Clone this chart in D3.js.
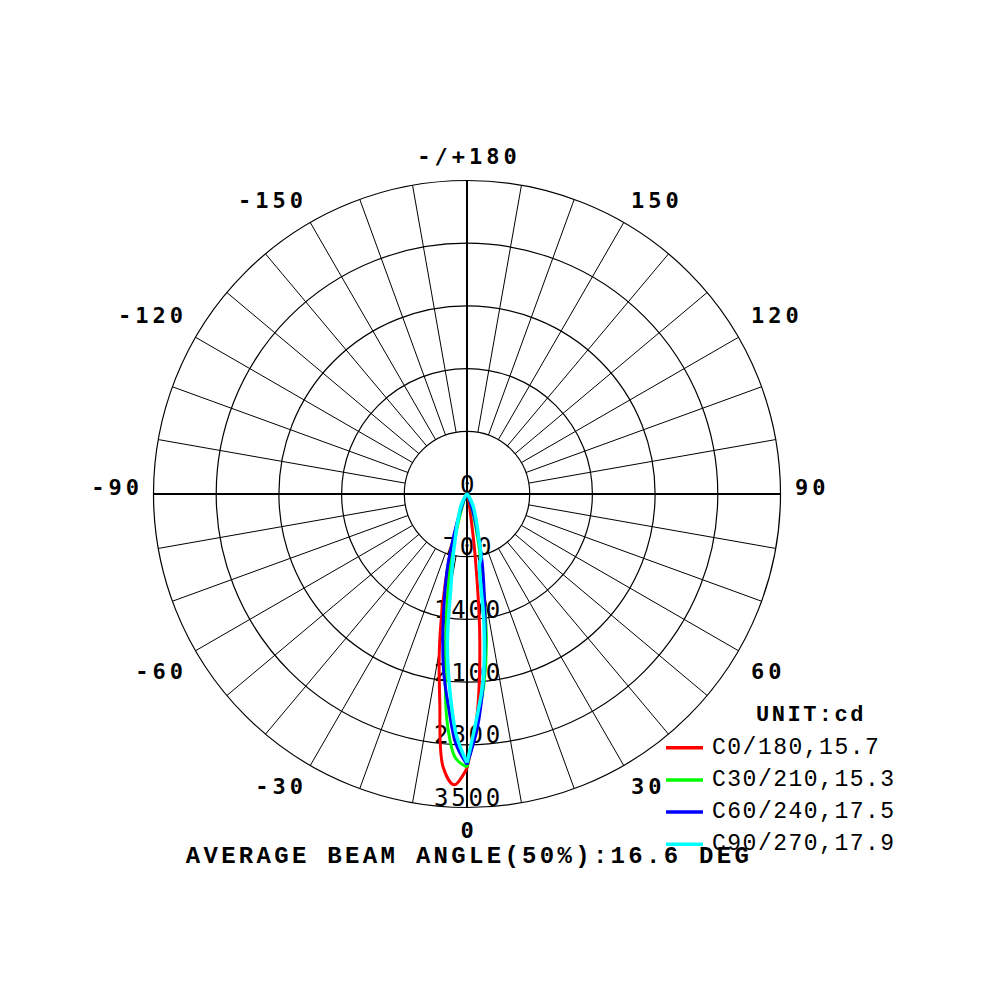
<!DOCTYPE html>
<html>
<head>
<meta charset="utf-8">
<script src="https://cdn.jsdelivr.net/npm/d3@7"></script>
<style>
  body { margin: 0; background: #fff; }
</style>
</head>
<body>
<div id="chart"></div>
<script>
// gamma angles (deg), negative = left half (C180..), positive = right half (C0..)
const gammaAngles = [-90, -60, -40, -30, -25, -20, -17.5, -15, -12.5, -10, -7.5, -5, -2.5,
    0, 2.5, 5, 7.5, 10, 12.5, 15, 17.5, 20, 25, 30, 40, 60, 90];

// intensities in cd
const c0_180 = [0, 5, 20, 50, 100, 250, 450, 800, 1250, 1780, 2330, 3060, 3250,
    3060, 2500, 1640, 700, 220, 120, 70, 45, 30, 20, 10, 5, 2, 0];
const c30_210 = [0, 3, 10, 30, 70, 170, 300, 550, 900, 1300, 1850, 2550, 2950,
    3050, 2550, 2150, 1660, 1050, 650, 380, 220, 130, 60, 30, 10, 3, 0];
const c60_240 = [0, 3, 15, 40, 100, 280, 500, 840, 1150, 1550, 2000, 2380, 2800,
    3020, 2620, 2100, 1550, 1100, 780, 480, 280, 150, 60, 25, 10, 3, 0];
const c90_270 = [0, 5, 30, 100, 180, 280, 380, 500, 720, 1030, 1680, 2200, 2700,
    3000, 2500, 2080, 1450, 800, 720, 500, 380, 280, 180, 100, 30, 5, 0];

const seriesNames = ["C0/180,15.7", "C30/210,15.3", "C60/240,17.5", "C90/270,17.9"];
const seriesValues = [c0_180, c30_210, c60_240, c90_270];
const seriesColors = ["#ff0000", "#00ff00", "#0000ff", "#00ffff"];

const ringValues = [0, 700, 1400, 2100, 2800, 3500];
const angleTicks = [-150, -120, -90, -60, -30, 0, 30, 60, 90, 120, 150, 180];
const angleTickLabels = ["-150", "-120", "-90", "-60", "-30", "0", "30", "60", "90", "120", "150", "-/+180"];

const unitLabel = "UNIT:cd";
const titleText = "AVERAGE BEAM ANGLE(50%):16.6 DEG";

const wSvg = 1000;
const hSvg = 1000;
const cx = 467;
const cy = 494;
const rMax = 313.5;

const svg = d3.select("#chart")
    .append("svg")
    .attr("width", wSvg)
    .attr("height", hSvg)
    .style("background", "#fff");

// Scales
const rScale = d3.scaleLinear([0, 3500], [0, rMax]);
// gamma 0 points down, positive gamma to the right (lineRadial angle: 0 = up, clockwise)
const aScale = d3.scaleLinear([-180, 180], [2 * Math.PI, 0]);

const toRad = deg => deg * Math.PI / 180;
const px = (g, r) => cx + r * Math.sin(toRad(g));
const py = (g, r) => cy + r * Math.cos(toRad(g));

const grid = svg.append("g");

// rings
grid.selectAll("circle")
    .data(ringValues.filter(v => v > 0))
    .enter()
    .append("circle")
    .attr("cx", cx)
    .attr("cy", cy)
    .attr("r", d => rScale(d))
    .attr("fill", "none")
    .attr("stroke", "#000")
    .attr("stroke-width", 1.2);

// spokes every 10 deg, from first ring outward
const spokes = d3.range(0, 360, 10).filter(a => a % 90 != 0);
grid.selectAll("line.spoke")
    .data(spokes)
    .enter()
    .append("line")
    .attr("class", "spoke")
    .attr("x1", d => px(d, rScale(ringValues[1])))
    .attr("y1", d => py(d, rScale(ringValues[1])))
    .attr("x2", d => px(d, rMax))
    .attr("y2", d => py(d, rMax))
    .attr("stroke", "#000")
    .attr("stroke-width", 1);

// main axes through centre
grid.append("line")
    .attr("x1", cx - rMax).attr("y1", cy)
    .attr("x2", cx + rMax).attr("y2", cy)
    .attr("stroke", "#000").attr("stroke-width", 2);
grid.append("line")
    .attr("x1", cx).attr("y1", cy - rMax)
    .attr("x2", cx).attr("y2", cy + rMax)
    .attr("stroke", "#000").attr("stroke-width", 2);

// ring labels
svg.append("g")
    .selectAll("text")
    .data(ringValues)
    .enter()
    .append("text")
    .attr("x", cx + 1.5)
    .attr("y", d => cy + rScale(d) - 1.5)
    .attr("text-anchor", "middle")
    .attr("font-family", "'DejaVu Sans Mono', monospace")
    .attr("font-size", 24)
    .attr("letter-spacing", 2.8)
    .attr("fill", "#000")
    .text(d => d);

// angle labels
const rLab = 328;
svg.append("g")
    .selectAll("text")
    .data(angleTicks)
    .enter()
    .append("text")
    .attr("x", d => {
        const s = Math.sin(toRad(d));
        if (s < -0.01) return px(d, rLab) + 4;
        if (s > 0.01) return px(d, rLab);
        return px(d, rLab) + 2;
    })
    .attr("y", d => py(d, rLab))
    .attr("dy", d => {
        const c = Math.cos(toRad(d));
        const steep = Math.abs(Math.sin(toRad(d))) > 0.8;
        if (c > 0.01) return steep ? 21 : 16;
        if (c < -0.01) return steep ? -7 : -2;
        return 1;
    })
    .attr("text-anchor", d => {
        const s = Math.sin(toRad(d));
        if (s > 0.01) return "start";
        if (s < -0.01) return "end";
        return "middle";
    })
    .attr("font-family", "'DejaVu Sans Mono', monospace")
    .attr("font-weight", "bold")
    .attr("font-size", 22)
    .attr("letter-spacing", 4)
    .attr("fill", "#000")
    .text((d, i) => angleTickLabels[i]);

// curves, each half drawn separately so they meet in a corner at gamma 0
const radial = d3.lineRadial()
    .angle(d => aScale(d.g))
    .radius(d => rScale(d.v))
    .curve(d3.curveCatmullRom.alpha(0.5));

const curves = svg.append("g").attr("transform", `translate(${cx}, ${cy})`);
seriesValues.forEach((vals, i) => {
    const pts = gammaAngles.map((g, j) => ({ g: g, v: vals[j] }));
    const left = pts.filter(p => p.g <= 0);
    const right = pts.filter(p => p.g >= 0);
    [left, right].forEach(half => {
        curves.append("path")
            .attr("d", radial(half))
            .attr("fill", "none")
            .attr("stroke", seriesColors[i])
            .attr("stroke-width", i == 3 ? 3.5 : 3)
            .attr("stroke-linejoin", "round");
    });
});

// bottom title
svg.append("text")
    .attr("x", cx + 2)
    .attr("y", 863)
    .attr("text-anchor", "middle")
    .attr("font-family", "'Liberation Mono', monospace")
    .attr("font-weight", "bold")
    .attr("font-size", 24)
    .attr("letter-spacing", 3.3)
    .attr("fill", "#000")
    .text(titleText);

// legend
const legend = svg.append("g");
legend.append("text")
    .attr("x", 811)
    .attr("y", 721)
    .attr("text-anchor", "middle")
    .attr("font-family", "'Liberation Mono', monospace")
    .attr("font-weight", "bold")
    .attr("font-size", 22)
    .attr("letter-spacing", 2.5)
    .attr("fill", "#000")
    .text(unitLabel);

const entries = legend.selectAll("g.entry")
    .data(seriesNames)
    .enter()
    .append("g")
    .attr("class", "entry")
    .attr("transform", (d, i) => `translate(0, ${i * 32.2})`);

entries.append("text")
    .attr("x", 712)
    .attr("y", 753.5)
    .attr("font-family", "'Liberation Mono', monospace")
    .attr("font-size", 23)
    .attr("letter-spacing", 1.5)
    .attr("fill", "#000")
    .text(d => d);

entries.append("line")
    .attr("x1", 666)
    .attr("x2", 703)
    .attr("y1", 747.7)
    .attr("y2", 747.7)
    .attr("stroke", (d, i) => seriesColors[i])
    .attr("stroke-width", 3.5);
</script>
</body>
</html>
